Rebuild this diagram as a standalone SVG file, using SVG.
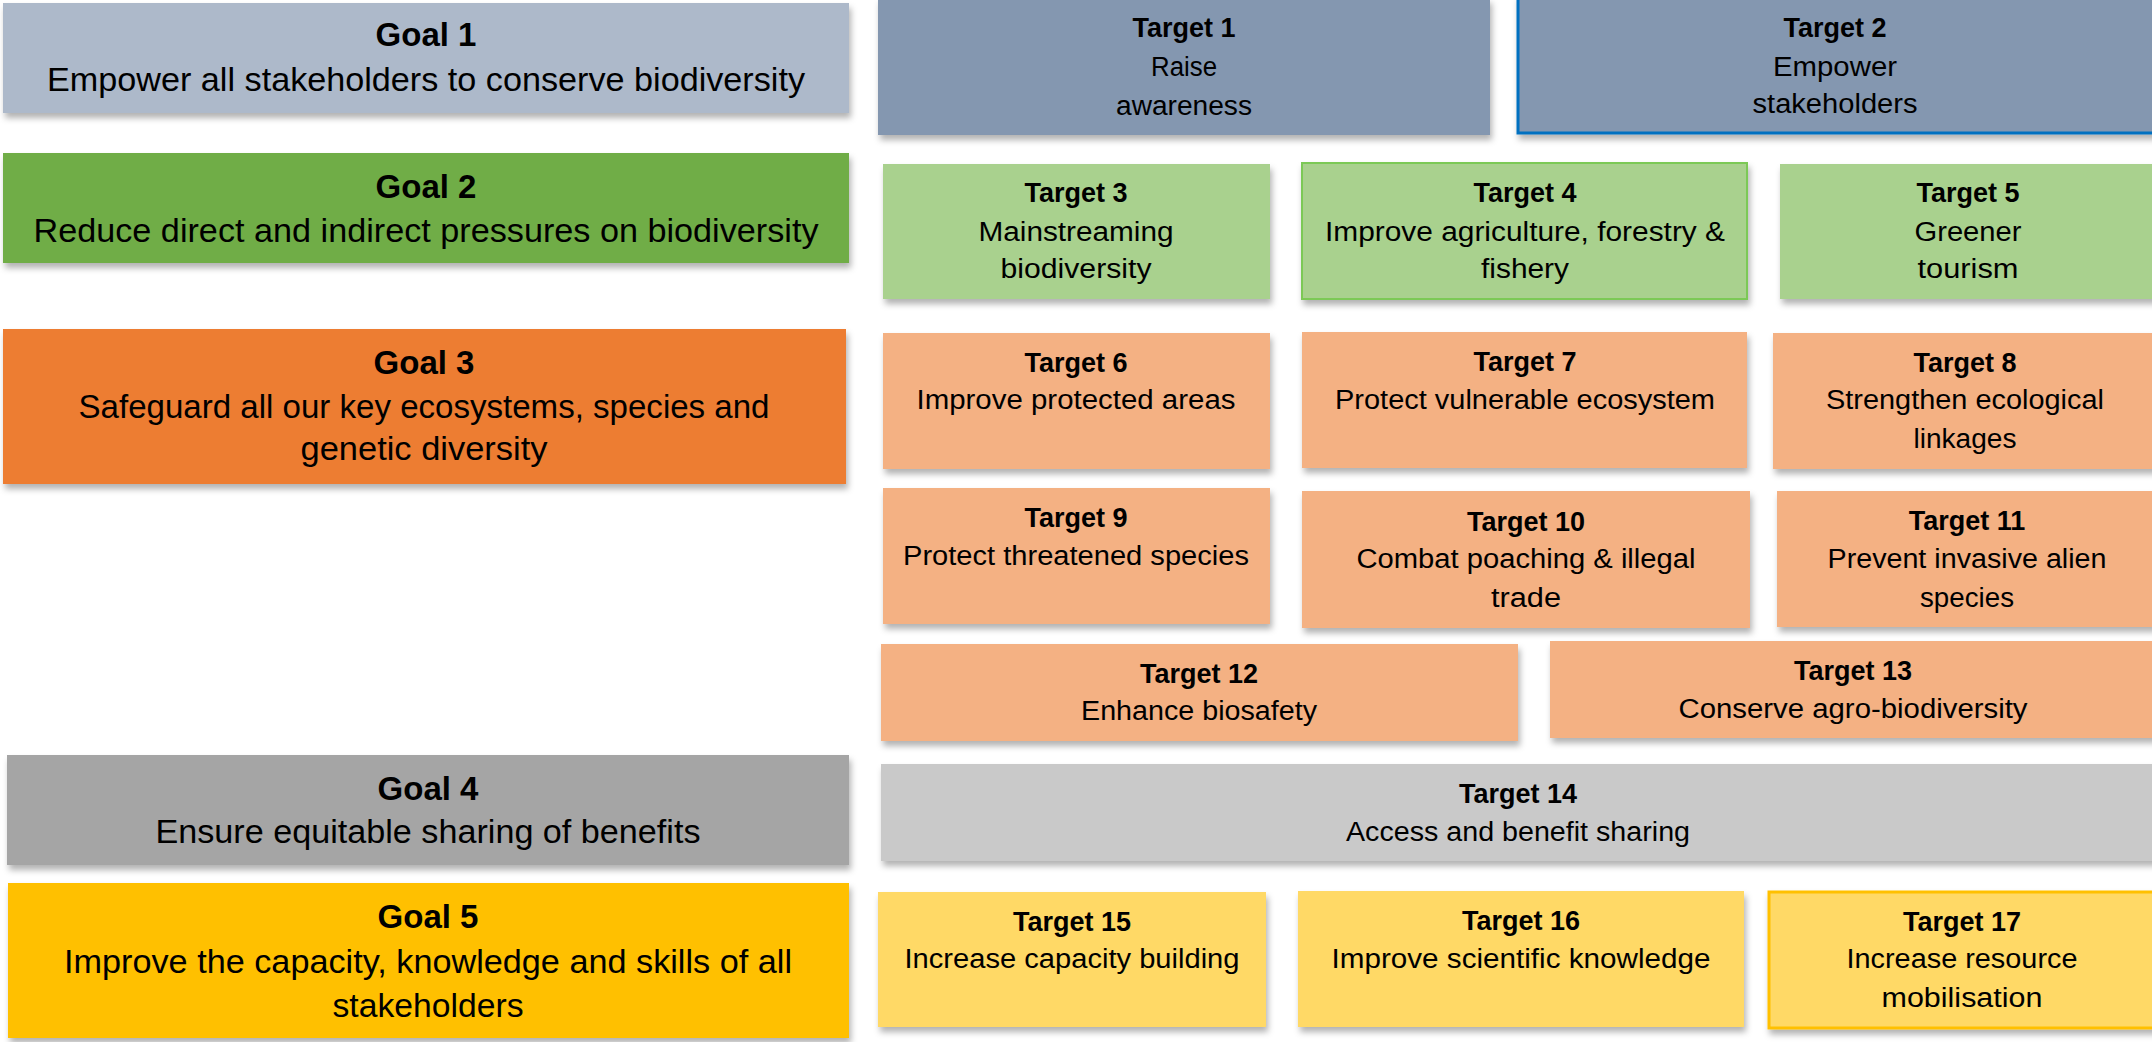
<svg xmlns="http://www.w3.org/2000/svg" width="2152" height="1042" viewBox="0 0 2152 1042">
<defs>
<filter id="sh" x="-5%" y="-10%" width="110%" height="130%">
<feDropShadow dx="2" dy="5" stdDeviation="3" flood-color="#000" flood-opacity="0.3"/>
</filter>
<style>
text{font-family:"Liberation Sans",Arial,sans-serif;fill:#000;text-anchor:middle}
.gt{font-size:33px;font-weight:bold}
.gd{font-size:33px}
.tt{font-size:27px;font-weight:bold}
.td{font-size:27px}
.box{filter:url(#sh)}
.g1{fill:#ADB9CA}.g2{fill:#70AD47}.g3{fill:#ED7D31}.g4{fill:#A5A5A5}.g5{fill:#FFC000}
.tb{fill:#8497B0}.tg{fill:#A9D18E}.to{fill:#F4B183}.tgr{fill:#C9C9C9}.ty{fill:#FFD966}
</style>
</defs>
<rect width="2152" height="1042" fill="#fff"/>

<g id="goal1"><rect class="box g1" x="3" y="3" width="846" height="110"/>
<text class="gt" x="426" y="46">Goal 1</text>
<text class="gd" x="426" y="91" textLength="758" lengthAdjust="spacingAndGlyphs">Empower all stakeholders to conserve biodiversity</text></g>

<g id="goal2"><rect class="box g2" x="3" y="153" width="846" height="110"/>
<text class="gt" x="426" y="198">Goal 2</text>
<text class="gd" x="426" y="242" textLength="785" lengthAdjust="spacingAndGlyphs">Reduce direct and indirect pressures on biodiversity</text></g>

<g id="goal3"><rect class="box g3" x="3" y="329" width="843" height="155"/>
<text class="gt" x="424" y="374">Goal 3</text>
<text class="gd" x="424" y="418" textLength="691" lengthAdjust="spacingAndGlyphs">Safeguard all our key ecosystems, species and</text>
<text class="gd" x="424" y="460" textLength="247" lengthAdjust="spacingAndGlyphs">genetic diversity</text></g>

<g id="goal4"><rect class="box g4" x="7" y="755" width="842" height="110"/>
<text class="gt" x="428" y="800">Goal 4</text>
<text class="gd" x="428" y="843" textLength="545" lengthAdjust="spacingAndGlyphs">Ensure equitable sharing of benefits</text></g>

<g id="goal5"><rect class="box g5" x="8" y="883" width="841" height="155"/>
<text class="gt" x="428" y="928">Goal 5</text>
<text class="gd" x="428" y="973" textLength="728" lengthAdjust="spacingAndGlyphs">Improve the capacity, knowledge and skills of all</text>
<text class="gd" x="428" y="1017" textLength="191" lengthAdjust="spacingAndGlyphs">stakeholders</text></g>

<g id="target1"><rect class="box tb" x="878" y="-2" width="612" height="137"/>
<text class="tt" x="1184" y="37">Target 1</text>
<text class="td" x="1184" y="76" textLength="66" lengthAdjust="spacingAndGlyphs">Raise</text>
<text class="td" x="1184" y="115" textLength="136" lengthAdjust="spacingAndGlyphs">awareness</text></g>

<g id="target2"><rect class="box tb" x="1518" y="-4" width="640" height="137" stroke="#0070C0" stroke-width="3"/>
<text class="tt" x="1835" y="37">Target 2</text>
<text class="td" x="1835" y="76" textLength="124" lengthAdjust="spacingAndGlyphs">Empower</text>
<text class="td" x="1835" y="113" textLength="165" lengthAdjust="spacingAndGlyphs">stakeholders</text></g>

<g id="target3"><rect class="box tg" x="883" y="164" width="387" height="135"/>
<text class="tt" x="1076" y="202">Target 3</text>
<text class="td" x="1076" y="241" textLength="195" lengthAdjust="spacingAndGlyphs">Mainstreaming</text>
<text class="td" x="1076" y="278" textLength="151" lengthAdjust="spacingAndGlyphs">biodiversity</text></g>

<g id="target4"><rect class="box tg" x="1302" y="163" width="445" height="136" stroke="#7CC957" stroke-width="2"/>
<text class="tt" x="1525" y="202">Target 4</text>
<text class="td" x="1525" y="241" textLength="400" lengthAdjust="spacingAndGlyphs">Improve agriculture, forestry &amp;</text>
<text class="td" x="1525" y="278" textLength="88" lengthAdjust="spacingAndGlyphs">fishery</text></g>

<g id="target5"><rect class="box tg" x="1780" y="164" width="380" height="135"/>
<text class="tt" x="1968" y="202">Target 5</text>
<text class="td" x="1968" y="241" textLength="107" lengthAdjust="spacingAndGlyphs">Greener</text>
<text class="td" x="1968" y="278" textLength="101" lengthAdjust="spacingAndGlyphs">tourism</text></g>

<g id="target6"><rect class="box to" x="883" y="333" width="387" height="136"/>
<text class="tt" x="1076" y="372">Target 6</text>
<text class="td" x="1076" y="409" textLength="319" lengthAdjust="spacingAndGlyphs">Improve protected areas</text></g>

<g id="target7"><rect class="box to" x="1302" y="332" width="445" height="136"/>
<text class="tt" x="1525" y="371">Target 7</text>
<text class="td" x="1525" y="409" textLength="380" lengthAdjust="spacingAndGlyphs">Protect vulnerable ecosystem</text></g>

<g id="target8"><rect class="box to" x="1773" y="333" width="385" height="136"/>
<text class="tt" x="1965" y="372">Target 8</text>
<text class="td" x="1965" y="409" textLength="278" lengthAdjust="spacingAndGlyphs">Strengthen ecological</text>
<text class="td" x="1965" y="448" textLength="103" lengthAdjust="spacingAndGlyphs">linkages</text></g>

<g id="target9"><rect class="box to" x="883" y="488" width="387" height="136"/>
<text class="tt" x="1076" y="527">Target 9</text>
<text class="td" x="1076" y="565" textLength="346" lengthAdjust="spacingAndGlyphs">Protect threatened species</text></g>

<g id="target10"><rect class="box to" x="1302" y="491" width="448" height="137"/>
<text class="tt" x="1526" y="531">Target 10</text>
<text class="td" x="1526" y="568" textLength="339" lengthAdjust="spacingAndGlyphs">Combat poaching &amp; illegal</text>
<text class="td" x="1526" y="607" textLength="70" lengthAdjust="spacingAndGlyphs">trade</text></g>

<g id="target11"><rect class="box to" x="1777" y="491" width="380" height="136"/>
<text class="tt" x="1967" y="530">Target 11</text>
<text class="td" x="1967" y="568" textLength="279" lengthAdjust="spacingAndGlyphs">Prevent invasive alien</text>
<text class="td" x="1967" y="607" textLength="94" lengthAdjust="spacingAndGlyphs">species</text></g>

<g id="target12"><rect class="box to" x="881" y="644" width="637" height="97"/>
<text class="tt" x="1199" y="683">Target 12</text>
<text class="td" x="1199" y="720" textLength="236" lengthAdjust="spacingAndGlyphs">Enhance biosafety</text></g>

<g id="target13"><rect class="box to" x="1550" y="641" width="608" height="97"/>
<text class="tt" x="1853" y="680">Target 13</text>
<text class="td" x="1853" y="718" textLength="349" lengthAdjust="spacingAndGlyphs">Conserve agro-biodiversity</text></g>

<g id="target14"><rect class="box tgr" x="881" y="764" width="1277" height="97"/>
<text class="tt" x="1518" y="803">Target 14</text>
<text class="td" x="1518" y="841" textLength="344" lengthAdjust="spacingAndGlyphs">Access and benefit sharing</text></g>

<g id="target15"><rect class="box ty" x="878" y="892" width="388" height="135"/>
<text class="tt" x="1072" y="931">Target 15</text>
<text class="td" x="1072" y="968" textLength="335" lengthAdjust="spacingAndGlyphs">Increase capacity building</text></g>

<g id="target16"><rect class="box ty" x="1298" y="891" width="446" height="136"/>
<text class="tt" x="1521" y="930">Target 16</text>
<text class="td" x="1521" y="968" textLength="379" lengthAdjust="spacingAndGlyphs">Improve scientific knowledge</text></g>

<g id="target17"><rect class="box ty" x="1769" y="892" width="390" height="136" stroke="#FFC000" stroke-width="3"/>
<text class="tt" x="1962" y="931">Target 17</text>
<text class="td" x="1962" y="968" textLength="231" lengthAdjust="spacingAndGlyphs">Increase resource</text>
<text class="td" x="1962" y="1007" textLength="161" lengthAdjust="spacingAndGlyphs">mobilisation</text></g>

<g id="connectors"></g>
</svg>
